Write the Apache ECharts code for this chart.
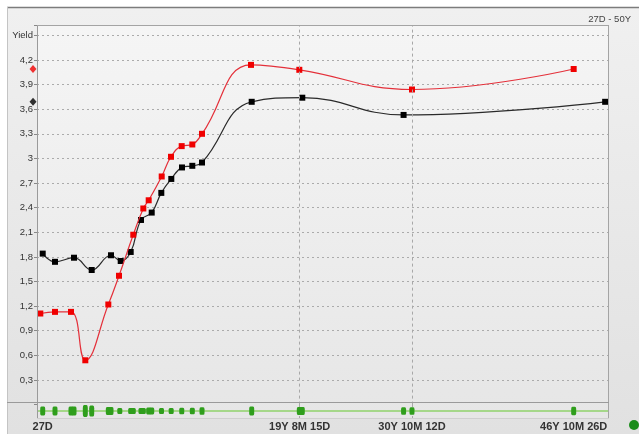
<!DOCTYPE html>
<html>
<head>
<meta charset="utf-8">
<script src="https://cdn.jsdelivr.net/npm/echarts@6/dist/echarts.min.js"></script>
<style>
html,body{margin:0;padding:0;background:#ffffff;}
#chart{width:639px;height:434px;}
</style>
</head>
<body>
<div id="chart"></div>
<script>
// ---- data (x = position on the term scale, 0..100; y = yield) ----
const rangeLabel = '27D - 50Y';
const yAxisName = 'Yield';

const blackPos = [1.0, 3.15, 6.48, 9.58, 12.96, 14.66, 16.41, 18.21, 20.09, 21.77, 23.52, 25.39, 27.2, 28.9, 37.6, 46.46, 64.2, 99.5];
const blackY   = [1.84, 1.74, 1.79, 1.64, 1.82, 1.75, 1.86, 2.25, 2.34, 2.58, 2.75, 2.89, 2.91, 2.95, 3.69, 3.74, 3.53, 3.69];

const redPos = [0.58, 3.15, 5.95, 8.46, 12.49, 14.36, 16.86, 18.62, 19.56, 21.84, 23.47, 25.34, 27.2, 28.9, 37.48, 45.94, 65.67, 93.99];
const redY   = [1.11, 1.13, 1.13, 0.54, 1.22, 1.57, 2.07, 2.39, 2.49, 2.78, 3.02, 3.15, 3.17, 3.30, 4.14, 4.08, 3.84, 4.09];

const tickPos    = [1.0, 46.0, 65.67, 93.99];
const tickLabels = ['27D', '19Y 8M 15D', '30Y 10M 12D', '46Y 10M 26D'];
const gridLinePos = [46.0, 65.67];

const greenPos = [1.0, 3.15, 5.95, 6.48, 8.46, 9.58, 12.49, 12.96, 14.5, 16.41, 16.86, 18.21, 18.62, 19.56, 20.09, 21.8, 23.5, 25.35, 27.2, 28.9, 37.6, 45.94, 46.46, 64.2, 65.67, 93.99];
const greenH   = [9, 9, 9, 9, 12, 11, 8, 8, 6, 6, 6, 6, 6, 7, 7, 6, 6, 6.5, 6.5, 7.5, 9, 8, 8, 7.5, 7.5, 8.5];

const edgeMarkerPos = -0.7;
const yMax = 4.626;

// ---- chart ----
const chart = echarts.init(document.getElementById('chart'), null, {renderer: 'canvas'});
const zip = (xs, ys) => xs.map((x, i) => [x, ys[i]]);

function yLabel(v) {
  if (Math.abs(v - 4.5) < 1e-6) return yAxisName;
  if (v <= 1e-6 || v > 4.51) return '';
  return String(Number(v.toFixed(1))).replace('.', ',');
}
function xLabel(v) {
  for (let i = 0; i < tickPos.length; i++) if (Math.abs(tickPos[i] - v) < 1e-6) return tickLabels[i];
  return '';
}

const vLineStyle = {type: [3, 3], color: '#a8a8a8', width: 1};

const option = {
  animation: false,
  title: {
    text: rangeLabel, right: 3, top: 9,
    textStyle: {fontSize: 9.5, fontWeight: 'normal', color: '#444', fontFamily: 'Liberation Sans'}
  },
  graphic: [
    {type: 'rect', z: -100, shape: {x: 7, y: 7, width: 632, height: 427},
      style: {fill: new echarts.graphic.LinearGradient(0, 0, 0, 1, [{offset: 0, color: '#f0f0f0'}, {offset: 1, color: '#e1e1e1'}])}},
    {type: 'rect', z: -99, shape: {x: 37, y: 25, width: 571, height: 393},
      style: {fill: new echarts.graphic.LinearGradient(0, 0, 0, 1, [{offset: 0, color: '#f5f5f5'}, {offset: 1, color: '#e6e6e6'}])}},
    {type: 'line', z: 100, shape: {x1: 7, y1: 7.5, x2: 639, y2: 7.5}, style: {stroke: '#7c7c7c', lineWidth: 1.5}},
    {type: 'line', z: 100, shape: {x1: 7.5, y1: 7, x2: 7.5, y2: 434}, style: {stroke: '#c4c4c4', lineWidth: 1}},
    {type: 'line', z: 100, shape: {x1: 37.5, y1: 25, x2: 37.5, y2: 418}, style: {stroke: '#9a9a9a', lineWidth: 1}},
    {type: 'line', z: 100, shape: {x1: 608.5, y1: 25, x2: 608.5, y2: 418}, style: {stroke: '#a4a4a4', lineWidth: 1}},
    {type: 'line', z: 100, shape: {x1: 37, y1: 25.5, x2: 609, y2: 25.5}, style: {stroke: '#a4a4a4', lineWidth: 1}},
    {type: 'line', z: 100, shape: {x1: 7, y1: 402.5, x2: 609, y2: 402.5}, style: {stroke: '#9a9a9a', lineWidth: 1}},
    {type: 'line', z: 100, shape: {x1: 37, y1: 418.5, x2: 609, y2: 418.5}, style: {stroke: '#cfcfcf', lineWidth: 1}},
    {type: 'circle', z: 100, shape: {cx: 634, cy: 425, r: 5}, style: {fill: '#1a8c1a'}}
  ],
  grid: [
    {left: 37, right: 31, top: 25, bottom: 434 - 404.6, show: false},
    {left: 37, right: 31, top: 403, height: 16, show: false}
  ],
  xAxis: [
    {gridIndex: 0, type: 'value', min: 0, max: 100, show: false},
    {gridIndex: 1, type: 'value', min: 0, max: 100,
      axisLine: {show: false}, axisTick: {show: false}, splitLine: {show: false},
      axisLabel: {customValues: tickPos, formatter: xLabel, margin: 2,
        fontSize: 11, fontWeight: 'bold', color: '#333', fontFamily: 'Liberation Sans'}}
  ],
  yAxis: [
    {gridIndex: 0, type: 'value', min: 0, max: yMax, interval: 0.3,
      axisLine: {show: false},
      axisTick: {show: true, length: 3, lineStyle: {color: '#888'}},
      axisLabel: {formatter: yLabel, margin: 4, fontSize: 9.5, color: '#333', fontFamily: 'Liberation Sans'},
      splitLine: {show: true, showMinLine: false, showMaxLine: false, lineStyle: {type: [2, 3], color: '#ababab', width: 1}}},
    {gridIndex: 1, type: 'value', min: -1, max: 1, show: false}
  ],
  series: [
    {type: 'line', xAxisIndex: 0, yAxisIndex: 0, data: zip(blackPos, blackY), smooth: 0.45,
      symbol: 'rect', symbolSize: 6, itemStyle: {color: '#000'}, lineStyle: {color: '#2a2a2a', width: 1.2}, z: 3,
      markLine: {silent: true, symbol: ['none', 'none'], label: {show: false}, lineStyle: vLineStyle,
        data: gridLinePos.map(v => ({xAxis: v}))}},
    {type: 'line', xAxisIndex: 0, yAxisIndex: 0, data: zip(redPos, redY), smooth: 0.45,
      symbol: 'rect', symbolSize: 6, itemStyle: {color: '#f00000'}, lineStyle: {color: '#e4303a', width: 1.2}, z: 4},
    {type: 'scatter', xAxisIndex: 0, yAxisIndex: 0, clip: false, symbol: 'diamond', symbolSize: [7, 8],
      data: [{value: [edgeMarkerPos, redY[redY.length - 1]], itemStyle: {color: '#f00000'}},
             {value: [edgeMarkerPos, blackY[blackY.length - 1]], itemStyle: {color: '#000'}}], z: 5},
    {type: 'scatter', xAxisIndex: 1, yAxisIndex: 1, symbol: 'roundRect', clip: false,
      data: greenPos.map(x => [x, 0]),
      symbolSize: (val, params) => [5, greenH[params.dataIndex]],
      itemStyle: {color: '#2f9e1c', opacity: 1}, z: 6,
      markLine: {silent: true, z: 1, symbol: ['none', 'none'], label: {show: false},
        data: [
          {yAxis: 0, lineStyle: {type: 'solid', color: '#8fd26a', width: 1.5}},
          ...gridLinePos.map(v => ({xAxis: v, lineStyle: vLineStyle}))
        ]}}
  ]
};
chart.setOption(option);
</script>
</body>
</html>
